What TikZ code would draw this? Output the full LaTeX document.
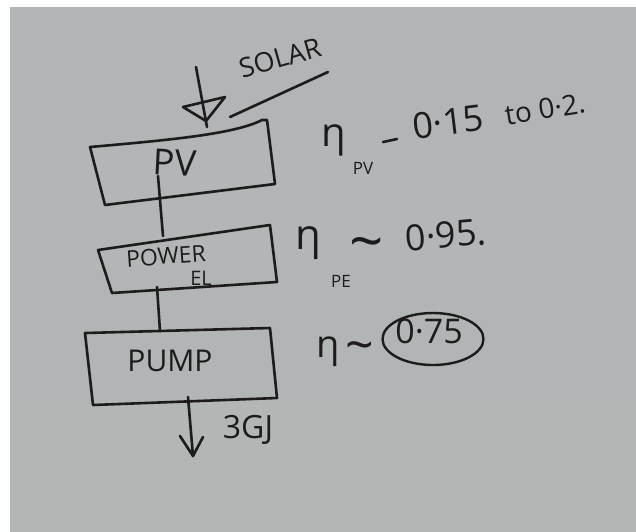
\documentclass[tikz,border=0pt]{standalone}
\usepackage{fontspec}
\setmainfont{Open Sans}
\usetikzlibrary{shapes.geometric}
\definecolor{ink}{HTML}{1C1C1C}
\definecolor{bgtop}{HTML}{B3B4B6}
\definecolor{bgmid}{HTML}{C3C7C6}
\definecolor{bgbot}{HTML}{B2B6B5}
\newcommand{\fs}[1]{\fontsize{#1}{#1}\selectfont}
\begin{document}
\begin{tikzpicture}[x=1pt,y=-1pt,
  inkline/.style={draw=ink, line width=2.6pt, line cap=round, line join=round},
  lab/.style={text=ink, inner sep=0pt, outer sep=0pt}]
\useasboundingbox (0,0) rectangle (636,531);
\fill[white] (0,0) rectangle (636,531);
\shade[top color=bgtop, middle color=bgmid, bottom color=bgbot] (10,7) rectangle (636,531);

% solar input
\node[lab, rotate=16, font=\fs{27}] (solar) at (280,58) {SOLAR};
\draw[inkline] (230,117) -- (328,72);
\coordinate (suntop) at (196,67);
\coordinate (pvin) at (207,127);
\draw[inkline] (suntop) -- (pvin);
\draw[inkline] (183,107) -- (225,97) -- (206,121) -- cycle;

% PV box
\coordinate (pvTL) at (90,147);
\coordinate (pvTR) at (267,120);
\coordinate (pvBR) at (275,184);
\coordinate (pvBL) at (105,205);
\draw[inkline] (pvTL) .. controls (170,140) and (235,134) .. (262,120) -- (pvTR) -- (pvBR) -- (pvBL) -- cycle;
\node[lab, font=\fs{36}, rotate=-3] (pv) at (175,163) {PV};
\coordinate (pvstem) at (158,176);

% Power electronics box
\coordinate (peTL) at (98,250);
\coordinate (peTR) at (270,225);
\coordinate (peBR) at (277,282);
\coordinate (peBL) at (112,293);
\draw[inkline] (peTL) -- (peTR) -- (peBR) -- (peBL) -- cycle;
\node[lab, font=\fs{23}, rotate=4] (power) at (166,256) {POWER};
\node[lab, font=\fs{20}] (el) at (201,278) {EL};
\coordinate (petop) at (163,236);
\coordinate (pebot) at (157,287);

% Pump box
\coordinate (puTL) at (85,333);
\coordinate (puTR) at (270,328);
\coordinate (puBR) at (277,398);
\coordinate (puBL) at (93,405);
\draw[inkline] (puTL) -- (puTR) -- (puBR) -- (puBL) -- cycle;
\node[lab, font=\fs{30}] (pump) at (170,361) {PUMP};
\coordinate (putop) at (160,331);
\coordinate (pubot) at (188,397);
\coordinate (out) at (193,456);

% connectors
\draw[inkline] (pvstem) -- (petop);
\draw[inkline] (pebot) -- (putop);
\draw[inkline] (pubot) -- (out);
\draw[inkline] (180,436) -- (out) -- (203,437);
\node[lab, font=\fs{32}] (gj) at (248,430) {3GJ};

% efficiencies
\node[lab, font=\fs{40}] (etapv) at (334,140) {η};
\node[lab, font=\fs{17}] (pvsub) at (363,168) {PV};
\draw[inkline] (383,142) -- (397,139);
\node[lab, font=\fs{36}, rotate=7] (pvval) at (448,122) {0·15};
\node[lab, font=\fs{28}, rotate=9] (pvto) at (545,109) {to 0·2.};

\node[lab, font=\fs{42}] (etape) at (308,243) {η};
\node[lab, font=\fs{17}] (pesub) at (341,281) {PE};
\node[lab, font=\fs{60}] (tpe) at (367,250) {\textasciitilde};
\node[lab, font=\fs{36}, rotate=5] (peval) at (446,235) {0·95.};

\node[lab, font=\fs{38}] (etapu) at (328,352) {η};
\node[lab, font=\fs{50}] (tpu) at (360,352) {\textasciitilde};
\node[lab, font=\fs{34}] (puval) at (429,331) {0·75};
\node[draw=ink, line width=2.4pt, ellipse, minimum width=101pt, minimum height=52pt, inner sep=0pt] (ring) at (433,339) {};
\end{tikzpicture}
\end{document}
